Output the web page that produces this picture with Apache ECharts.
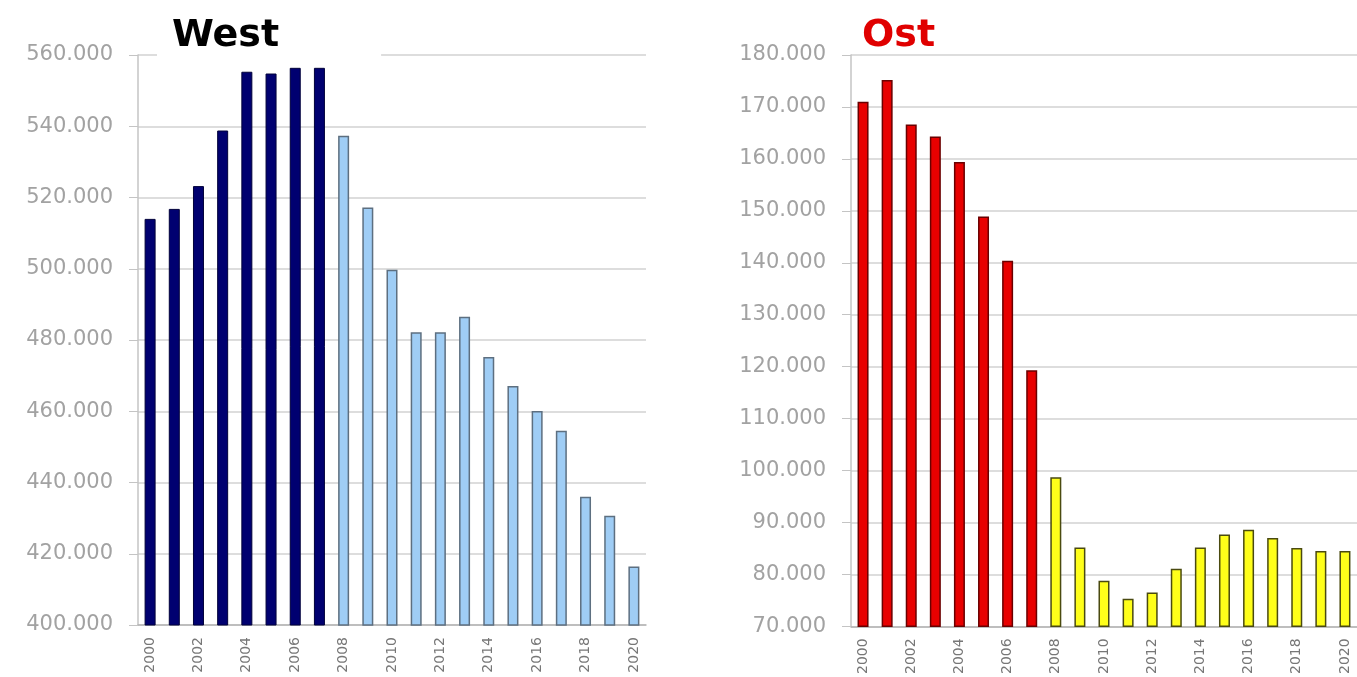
<!DOCTYPE html>
<html>
<head>
<meta charset="utf-8">
<script src="https://cdn.jsdelivr.net/npm/echarts@6/dist/echarts.min.js"></script>
<style>
  html, body { margin: 0; padding: 0; background: #ffffff; }
  #main { width: 1357px; height: 677px; }
</style>
</head>
<body>
<div id="main"></div>
<script>
  // Jahre 2000 - 2020
  const years = ['2000','2001','2002','2003','2004','2005','2006','2007','2008','2009','2010',
                 '2011','2012','2013','2014','2015','2016','2017','2018','2019','2020']
  const westValues = [514000, 516800, 523200, 538800, 555300, 554800, 556400, 556400, 537300, 517200, 499700,
                      482200, 482200, 486500, 475200, 467100, 460100, 454500, 436000, 430700, 416400]
  const ostValues = [171000, 175200, 166600, 164300, 159400, 148900, 140400, 119300, 98700, 85200, 78800,
                     75300, 76500, 81100, 85200, 87700, 88600, 87000, 85100, 84500, 84500]
  const westTicks = [400000, 560000, 20000]   // min, max, interval
  const ostTicks = [70000, 180000, 10000]
  const splitIndex = 8   // ab 2008 andere Farbe

  const fmt = v => (v / 1000).toFixed(3)

  const chart = echarts.init(document.getElementById('main'))

  // farbe vor / nach 2008
  function colored(values, before, after) {
    return values.map((v, i) => ({
      value: v,
      itemStyle: i < splitIndex ? before : after
    }))
  }

  function xAxisFor(gridIndex) {
    return {
      type: 'category',
      gridIndex: gridIndex,
      data: years,
      axisLine: { lineStyle: { color: '#b4b4b4', width: 1.5 } },
      axisTick: { interval: 0, length: 5, lineStyle: { color: '#b4b4b4' } },
      axisLabel: {
        interval: 1,
        rotate: 90,
        margin: 12,
        color: '#777777',
        fontFamily: 'DejaVu Sans',
        fontSize: 14
      }
    }
  }

  function yAxisFor(gridIndex, ticks) {
    return {
      type: 'value',
      gridIndex: gridIndex,
      min: ticks[0],
      max: ticks[1],
      interval: ticks[2],
      axisLine: { show: true, lineStyle: { color: '#c4c4c4', width: 1.5 } },
      axisTick: { show: true, length: 9, lineStyle: { color: '#c4c4c4' } },
      splitLine: { lineStyle: { color: '#d2d2d2', width: 1.5 } },
      axisLabel: {
        formatter: fmt,
        margin: 25,
        color: '#a2a2a2',
        fontFamily: 'DejaVu Sans',
        fontSize: 21
      }
    }
  }

  const option = {
    backgroundColor: '#ffffff',
    animation: false,
    title: [
      {
        text: 'West',
        left: 157,
        top: 9,
        backgroundColor: '#ffffff',
        padding: [6, 102, 6, 15],
        textStyle: { color: '#000000', fontFamily: 'DejaVu Sans', fontWeight: 'bold', fontSize: 38, lineHeight: 42 }
      },
      {
        text: 'Ost',
        left: 850,
        top: 9,
        padding: [6, 10, 0, 12],
        textStyle: { color: '#e00000', fontFamily: 'DejaVu Sans', fontWeight: 'bold', fontSize: 38, lineHeight: 42 }
      }
    ],
    grid: [
      { left: 138, right: 711, top: 55, bottom: 52 },
      { left: 851, right: -6, top: 55, bottom: 49 }
    ],
    xAxis: [xAxisFor(0), xAxisFor(1)],
    yAxis: [yAxisFor(0, westTicks), yAxisFor(1, ostTicks)],
    series: [
      {
        name: 'West',
        type: 'bar',
        xAxisIndex: 0,
        yAxisIndex: 0,
        barWidth: 11,
        data: colored(westValues,
          { color: '#000070', borderColor: '#00003a', borderWidth: 1 },
          { color: '#9fcdf5', borderColor: '#5d6f80', borderWidth: 1.5 })
      },
      {
        name: 'Ost',
        type: 'bar',
        xAxisIndex: 1,
        yAxisIndex: 1,
        barWidth: 11,
        data: colored(ostValues,
          { color: '#e80000', borderColor: '#6a0000', borderWidth: 1.5 },
          { color: '#ffff1a', borderColor: '#4a4a10', borderWidth: 1.5 })
      }
    ]
  }
  chart.setOption(option)
</script>
</body>
</html>
